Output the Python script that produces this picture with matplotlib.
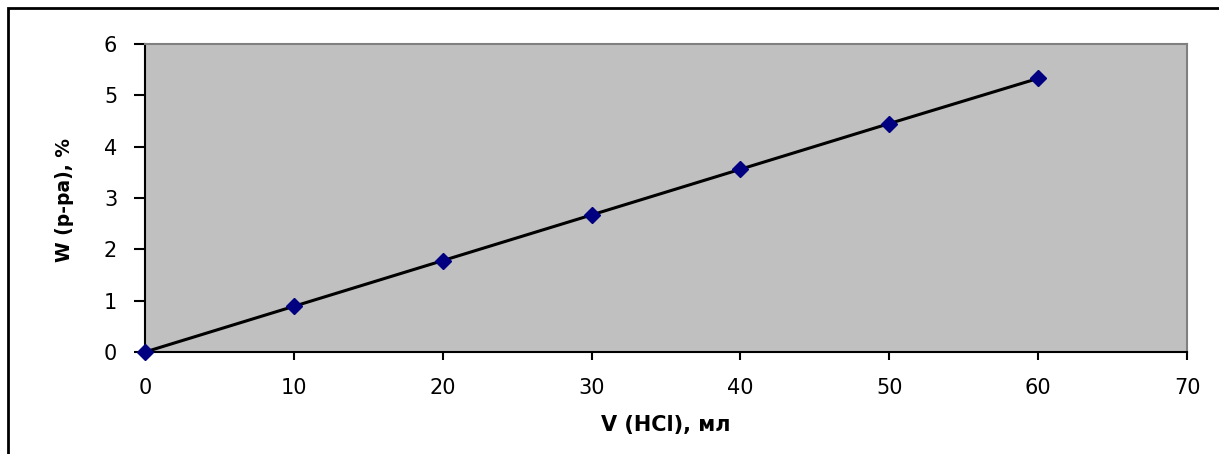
import matplotlib
matplotlib.use("Agg")
import matplotlib.pyplot as plt
from matplotlib.patches import Rectangle

# the original uses a wide Arial-like face; DejaVu Sans is the closest in width
plt.rcParams['font.family'] = ['DejaVu Sans']

# data
volume = [0, 10, 20, 30, 40, 50, 60]
w_pct = [0, 0.89, 1.78, 2.67, 3.56, 4.45, 5.33]
x_ticks = [0, 10, 20, 30, 40, 50, 60, 70]
y_ticks = [0, 1, 2, 3, 4, 5, 6]

W, H = 1219, 454
fig = plt.figure(figsize=(W / 100, H / 100), dpi=100)
fig.patch.set_facecolor('white')

# outer chart frame (cut off at the right and bottom)
fig.patches.append(Rectangle((8 / W, -0.1), 1.2, 1 - 8 / H + 0.1,
                             transform=fig.transFigure, fill=False,
                             edgecolor='black', linewidth=2))

ax = fig.add_axes([145 / W, 1 - 352 / H, (1187 - 145) / W, (352 - 44) / H])
ax.set_facecolor('#c0c0c0')

ax.plot(volume, w_pct, color='black', linewidth=2.2, zorder=2)
ax.plot(volume, w_pct, linestyle='none', marker='D', markersize=8.5,
        color='#000080', zorder=3, clip_on=False)

ax.set_xlim(0, 70)
ax.set_ylim(0, 6)
ax.set_xticks(x_ticks)
ax.set_yticks(y_ticks)
ax.tick_params(axis='both', direction='out', width=1.5,
               labelsize=15, colors='black')
ax.tick_params(axis='x', length=6, pad=13)
ax.tick_params(axis='y', length=8, pad=12)

for s in ['left', 'bottom']:
    ax.spines[s].set_color('black')
    ax.spines[s].set_linewidth(1.5)
for s in ['top', 'right']:
    ax.spines[s].set_color('#808080')
    ax.spines[s].set_linewidth(1.5)

ax.set_xlabel('V (HCl), мл', fontsize=15, fontweight='bold', labelpad=12)
ax.set_ylabel('W (р-ра), %', fontsize=13.5, fontweight='bold')
ax.yaxis.set_label_coords(-0.068, 0.495)

fig.savefig('out.png', dpi=100)
